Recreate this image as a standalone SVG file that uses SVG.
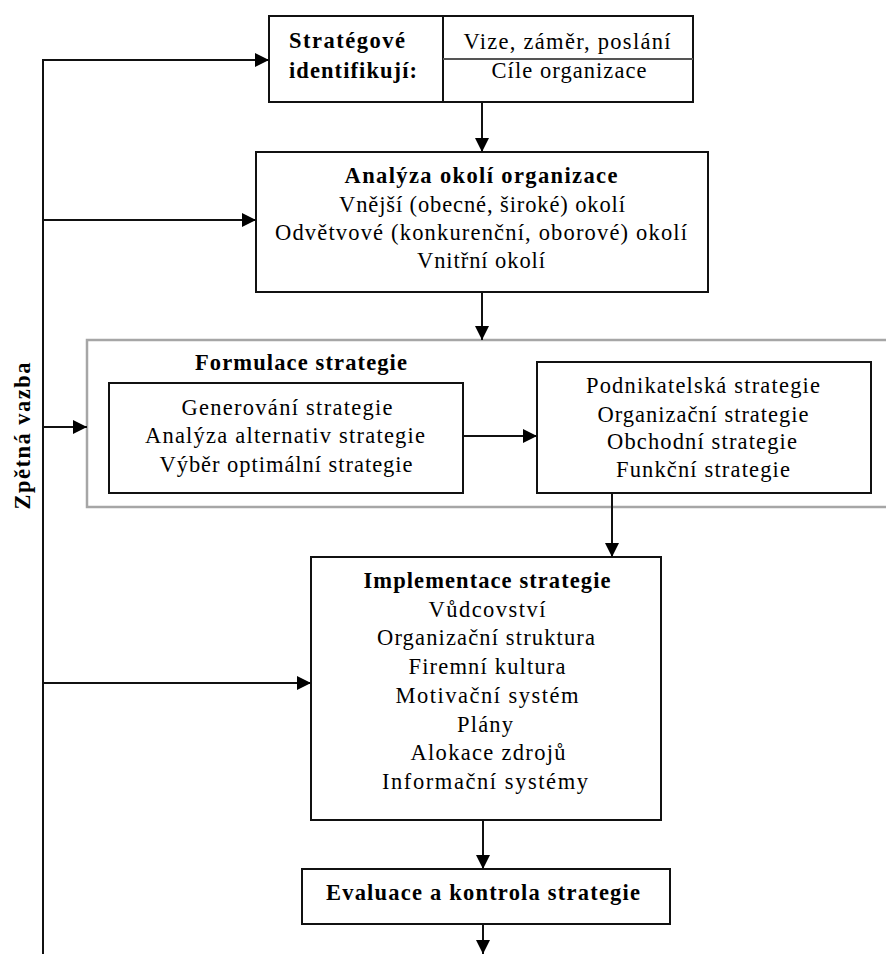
<svg xmlns="http://www.w3.org/2000/svg" width="886" height="954" viewBox="0 0 886 954">
<defs>
<style>
.box{fill:#fff;stroke:#111;stroke-width:2}
.gbox{fill:#fff;stroke:#a6a6a6;stroke-width:2.5}
.ln{fill:none;stroke:#111;stroke-width:2}
text{font-family:"Liberation Serif","Times New Roman",serif;font-size:22.5px;fill:#000}
.b{font-weight:bold}
.m{text-anchor:middle}
</style>
<marker id="ah" viewBox="0 0 14 14" refX="14" refY="7" markerWidth="14" markerHeight="14" markerUnits="userSpaceOnUse" orient="auto">
<path d="M0,0 L14,7 L0,14 Z" fill="#000"/>
</marker>
</defs>
<rect width="886" height="954" fill="#fff"/>

<g id="formulace">
<rect class="gbox" x="87" y="340" width="810" height="167"/>
<text class="b m" x="301" y="370" textLength="212" lengthAdjust="spacing">Formulace strategie</text>
</g>

<g id="strategove">
<rect class="box" x="269" y="16" width="424" height="86"/>
<line x1="443" y1="16" x2="443" y2="102" stroke="#111" stroke-width="2"/>
<line x1="443" y1="59" x2="693" y2="59" stroke="#555" stroke-width="2"/>
<text class="b" x="289" y="48" textLength="116" lengthAdjust="spacing">Stratégové</text>
<text class="b" x="289" y="78" textLength="128" lengthAdjust="spacing">identifikují:</text>
<text class="m" x="567" y="49" textLength="207" lengthAdjust="spacing">Vize, záměr, poslání</text>
<text class="m" x="569" y="78" textLength="155" lengthAdjust="spacing">Cíle organizace</text>
</g>

<g id="analyza">
<rect class="box" x="256" y="152" width="452" height="140"/>
<text class="b m" x="481" y="183" textLength="273" lengthAdjust="spacing">Analýza okolí organizace</text>
<text class="m" x="482" y="212" textLength="286" lengthAdjust="spacing">Vnější (obecné, široké) okolí</text>
<text class="m" x="481" y="240" textLength="412" lengthAdjust="spacing">Odvětvové (konkurenční, oborové) okolí</text>
<text class="m" x="481" y="268" textLength="128" lengthAdjust="spacing">Vnitřní okolí</text>
</g>

<g id="generovani">
<rect class="box" x="109" y="383" width="354" height="110"/>
<text class="m" x="287" y="415" textLength="211" lengthAdjust="spacing">Generování strategie</text>
<text class="m" x="285" y="443" textLength="280" lengthAdjust="spacing">Analýza alternativ strategie</text>
<text class="m" x="286" y="472" textLength="253" lengthAdjust="spacing">Výběr optimální strategie</text>
</g>

<g id="strategie-typy">
<rect class="box" x="537" y="362" width="334" height="131"/>
<text class="m" x="703" y="393" textLength="234" lengthAdjust="spacing">Podnikatelská strategie</text>
<text class="m" x="703" y="422" textLength="211" lengthAdjust="spacing">Organizační strategie</text>
<text class="m" x="702" y="449" textLength="190" lengthAdjust="spacing">Obchodní strategie</text>
<text class="m" x="703" y="477" textLength="174" lengthAdjust="spacing">Funkční strategie</text>
</g>

<g id="implementace">
<rect class="box" x="311" y="557" width="350" height="263"/>
<text class="b m" x="487" y="588" textLength="247" lengthAdjust="spacing">Implementace strategie</text>
<text class="m" x="487" y="617" textLength="117" lengthAdjust="spacing">Vůdcovství</text>
<text class="m" x="486" y="645" textLength="218" lengthAdjust="spacing">Organizační struktura</text>
<text class="m" x="487" y="674" textLength="157" lengthAdjust="spacing">Firemní kultura</text>
<text class="m" x="487" y="703" textLength="183" lengthAdjust="spacing">Motivační systém</text>
<text class="m" x="485" y="732" textLength="56" lengthAdjust="spacing">Plány</text>
<text class="m" x="488" y="760" textLength="155" lengthAdjust="spacing">Alokace zdrojů</text>
<text class="m" x="485" y="789" textLength="206" lengthAdjust="spacing">Informační systémy</text>
</g>

<g id="evaluace">
<rect class="box" x="302" y="869" width="368" height="55"/>
<text class="b m" x="483" y="900" textLength="314" lengthAdjust="spacing">Evaluace a kontrola strategie</text>
</g>

<g id="zpetna-vazba">
<text class="b m" transform="translate(30,436) rotate(-90)" x="0" y="0" textLength="147" lengthAdjust="spacing">Zpětná vazba</text>
</g>

<g id="connectors">
<line class="ln" x1="482" y1="102" x2="482" y2="152" marker-end="url(#ah)"/>
<line class="ln" x1="482" y1="292" x2="482" y2="340" marker-end="url(#ah)"/>
<line class="ln" x1="463" y1="436" x2="537" y2="436" marker-end="url(#ah)"/>
<line class="ln" x1="612" y1="493" x2="612" y2="557" marker-end="url(#ah)"/>
<line class="ln" x1="483" y1="820" x2="483" y2="869" marker-end="url(#ah)"/>
<line class="ln" x1="483" y1="924" x2="483" y2="954" marker-end="url(#ah)"/>
<polyline class="ln" points="43,954 43,60 269,60" marker-end="url(#ah)"/>
<line class="ln" x1="43" y1="220" x2="256" y2="220" marker-end="url(#ah)"/>
<line class="ln" x1="43" y1="427" x2="87" y2="427" marker-end="url(#ah)"/>
<line class="ln" x1="43" y1="683" x2="311" y2="683" marker-end="url(#ah)"/>
</g>
</svg>
